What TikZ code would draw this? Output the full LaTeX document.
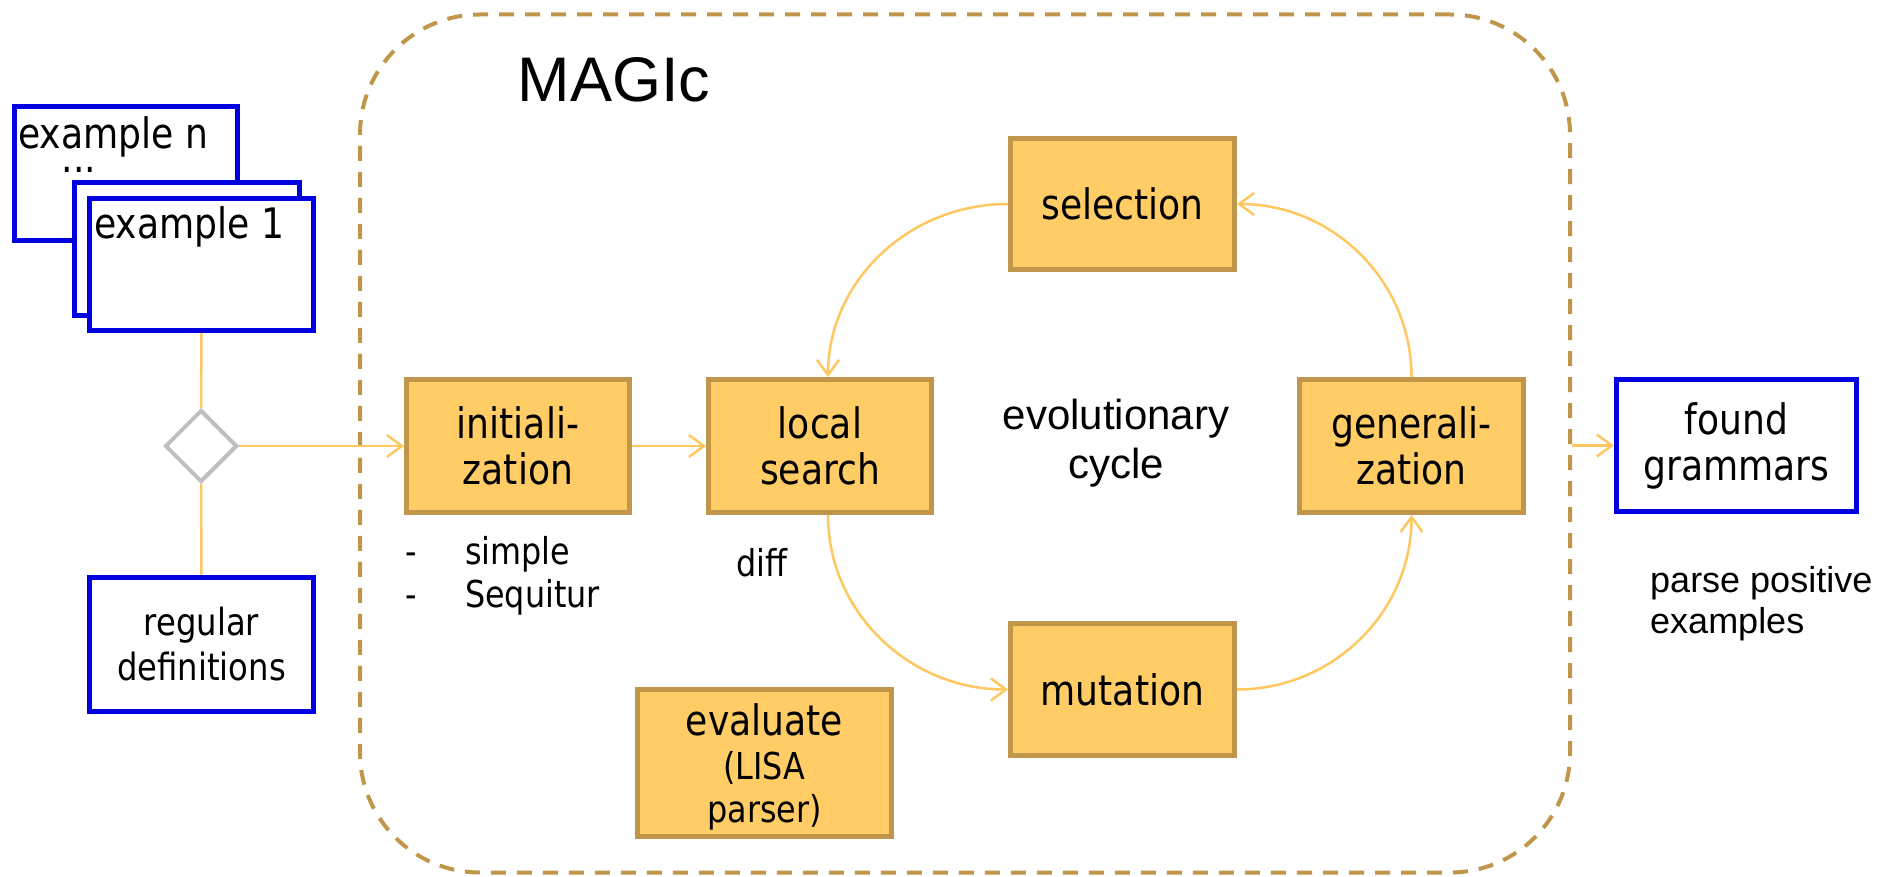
\documentclass[tikz,border=0pt]{standalone}
\usepackage{fontspec}
\setmainfont{Liberation Sans}
\newfontfamily\tah[FakeStretch=0.86]{DejaVu Sans}
\usetikzlibrary{arrows.meta,shapes.geometric}
\definecolor{boxfill}{HTML}{FFCC66}
\definecolor{boxline}{HTML}{C0964B}
\definecolor{connc}{HTML}{FFC75F}
\definecolor{blueline}{HTML}{0000E0}
\definecolor{greyline}{HTML}{BFBFBF}
\begin{document}
\begin{tikzpicture}[x=1pt,y=-1pt,
  obox/.style={draw=boxline, fill=boxfill, line width=5pt, inner sep=0pt, align=center, font=\tah\fontsize{42}{46}\selectfont},
  bbox/.style={draw=blueline, fill=white, line width=5pt, inner sep=0pt, align=center, font=\tah\fontsize{42}{46}\selectfont},
  conn/.style={draw=connc, line width=2.5pt},
  arr/.style={conn, -{Straight Barb[length=15pt,width=22pt]}},
  txt/.style={inner sep=0pt, font=\tah\fontsize{37}{43}\selectfont},
  atxt/.style={inner sep=0pt, font=\fontsize{42}{49}\selectfont},
]
\useasboundingbox (0,0) rectangle (1898,877);

% MAGIc frame
\node[draw=boxline, line width=4pt, dash pattern=on 15pt off 11pt, rounded corners=120pt,
      minimum width=1210pt, minimum height=858pt, inner sep=0pt] (magic) at (965,443.5) {};
\node[anchor=base, inner sep=0pt, font=\fontsize{63}{70}\selectfont] (magictitle) at (614,102) {MAGIc};

% example stack
\node[bbox, minimum width=223pt, minimum height=134pt] (exn) at (126,173.5) {};
\node[anchor=base west, inner sep=0pt, font=\tah\fontsize{42}{46}\selectfont] (exntxt) at (18,149) {example n};
\node[anchor=base, inner sep=0pt, font=\tah\fontsize{42}{46}\selectfont] (dots) at (79,173) {...};
\node[bbox, minimum width=225pt, minimum height=133pt] (mid) at (187,249) {};
\node[bbox, minimum width=224pt, minimum height=132pt] (ex1) at (201.5,264.5) {};
\node[anchor=base west, inner sep=0pt, font=\tah\fontsize{42}{46}\selectfont] (ex1txt) at (94,239) {example 1};

% diamond and regular definitions
\node[diamond, draw=greyline, line width=4pt, fill=white, aspect=1, inner sep=0pt,
      minimum width=72pt, minimum height=72pt] (dia) at (201,446) {};
\node[bbox, minimum width=224pt, minimum height=134pt, font=\tah\fontsize{37.5}{45}\selectfont] (regdef) at (201.5,644) {regular\\definitions};

% process boxes
\node[obox, minimum width=223pt, minimum height=133pt] (init) at (518,446) {initiali-\\zation};
\node[obox, minimum width=223pt, minimum height=133pt] (ls) at (820,446) {local\\search};
\node[obox, minimum width=224pt, minimum height=131pt] (sel) at (1122.5,204) {selection};
\node[obox, minimum width=224pt, minimum height=133pt] (gen) at (1411.5,446) {generali-\\zation};
\node[obox, minimum width=224pt, minimum height=132pt] (mut) at (1122.5,689.5) {mutation};
\node[obox, minimum width=254pt, minimum height=147pt, text depth=0pt] (eval) at (764.5,763)
  {evaluate\\[-2pt]{\fontsize{37}{43}\selectfont (LISA}\\[-3pt]{\fontsize{37}{43}\selectfont parser)}};
\node[bbox, minimum width=240pt, minimum height=132pt] (found) at (1736.5,445.5) {found\\grammars};

% annotations
\node[txt, anchor=base west] (dash1) at (405,564) {-};
\node[txt, anchor=base west] (simple) at (465,564) {simple};
\node[txt, anchor=base west] (dash2) at (405,607) {-};
\node[txt, anchor=base west] (sequitur) at (465,607) {Sequitur};
\node[txt, anchor=base west] (diff) at (736,576) {diff};
\node[atxt, align=center] (evo) at (1116,443) {evolutionary\\cycle};
\node[inner sep=0pt, anchor=base west, align=left, font=\fontsize{36}{41}\selectfont] (parse) at (1650,633) {parse positive\\examples};

% connectors
\draw[conn] (ex1.south) -- (dia.north);
\draw[conn] (dia.south) -- (regdef.north);
\draw[arr] (dia.east) -- (init.west);
\draw[arr] (init.east) -- (ls.west);
\draw[arr] (sel.west) .. controls +(-100,0) and +(0,-95) .. ([xshift=8pt]ls.north);
\draw[arr] ([xshift=8pt]ls.south) .. controls +(0,97) and +(-99,0) .. (mut.west);
\draw[arr] (mut.east) .. controls +(96,0) and +(0,97) .. (gen.south);
\draw[arr] (gen.north) .. controls +(0,-96) and +(96,0) .. (sel.east);
\draw[arr] (magic.east |- found.west) -- (found.west);
\end{tikzpicture}
\end{document}
